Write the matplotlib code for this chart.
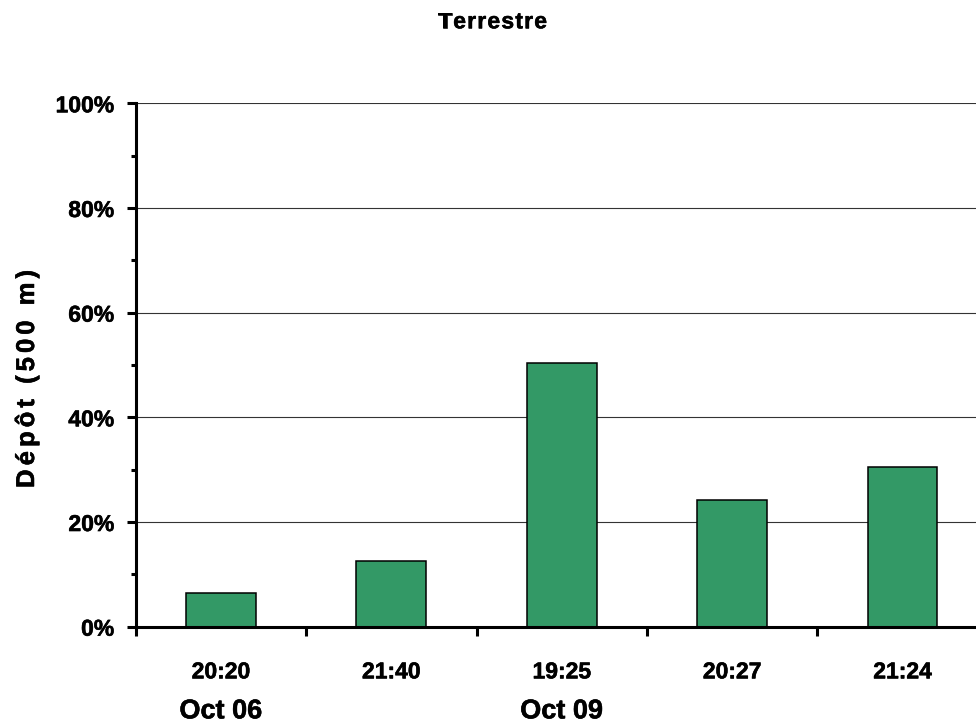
import matplotlib
matplotlib.use("Agg")
import matplotlib.pyplot as plt
import matplotlib.patheffects as pe
from matplotlib.ticker import FixedLocator, FuncFormatter, MultipleLocator
from matplotlib.font_manager import FontProperties

# ---- data ----
times = ["20:20", "21:40", "19:25", "20:27", "21:24"]
values = [6.5, 12.5, 50.3, 24.2, 30.5]
date_labels = ["Oct 06", "Oct 09"]
date_positions = [0, 2]
title = "Terrestre"
ylabel = "Dépôt (500 m)"

FAM = ["Liberation Sans", "DejaVu Sans"]
plt.rcParams["font.family"] = FAM
plt.rcParams["font.weight"] = "bold"
HEAVY = [pe.withStroke(linewidth=0.4, foreground="black")]

W, H = 976, 725
fig = plt.figure(figsize=(W / 100, H / 100), dpi=100)
ax = fig.add_axes([135.7 / W, 1 - 626.7 / H, (987.7 - 135.7) / W, (626.7 - 103.3) / H])

x = list(range(len(times)))
ax.bar(x, values, width=0.41, color="#339966", edgecolor="black", linewidth=1.1, zorder=3)

ax.set_xlim(-0.5, len(times) - 0.5)
ax.set_ylim(0, 100)

ax.yaxis.set_major_locator(MultipleLocator(20))
ax.yaxis.set_minor_locator(MultipleLocator(10))
ax.yaxis.set_major_formatter(FuncFormatter(lambda v, p: f"{int(round(v))}%"))
ax.grid(axis="y", which="major", color="#333333", linewidth=0.8, zorder=0)
ax.set_axisbelow(True)

for s in ["top", "right"]:
    ax.spines[s].set_visible(False)
for s in ["left", "bottom"]:
    ax.spines[s].set_linewidth(2.2)
    ax.spines[s].set_zorder(4)

ax.tick_params(axis="y", which="major", length=6.5, width=2.2, pad=9, labelsize=16.5)
ax.tick_params(axis="y", which="minor", length=3.6, width=2.2)
for lbl in ax.get_yticklabels():
    lbl.set_fontweight("bold")
    lbl.set_path_effects(HEAVY)

ax.xaxis.set_minor_locator(FixedLocator([i - 0.5 for i in range(len(times) + 1)]))
ax.set_xticks(x)
ax.set_xticklabels([])
ax.tick_params(axis="x", which="major", length=0)
ax.tick_params(axis="x", which="minor", length=6.5, width=2.2)

for xi, t in zip(x, times):
    ax.annotate(t, xy=(xi, 0), xycoords=("data", "axes fraction"),
                xytext=(0, -37.2), textcoords="offset points",
                ha="center", va="baseline", fontsize=16.5, fontweight="bold",
                annotation_clip=False, path_effects=HEAVY)
for xp, d in zip(date_positions, date_labels):
    ax.annotate(d, xy=(xp, 0), xycoords=("data", "axes fraction"),
                xytext=(0, -66.0), textcoords="offset points",
                ha="center", va="baseline", fontsize=19.5, fontweight="bold",
                annotation_clip=False, path_effects=HEAVY)

# letter-spaced text helper (positions in pixels from top-left)
renderer = fig.canvas.get_renderer()

def text_w(s, fp):
    t = fig.text(0, 0, s, fontproperties=fp)
    w = t.get_window_extent(renderer=renderer).width
    t.remove()
    return w

def char_w(ch, fp):
    return text_w("l" + ch + "l", fp) - text_w("ll", fp)

def spaced_text(s, size, start, end, base, vertical=False):
    fp = FontProperties(family=FAM, weight="bold", size=size)
    widths = [char_w(c, fp) for c in s]
    total = abs(end - start)
    gap = (total - sum(widths)) / (len(s) - 1)
    pos = 0.0
    for c, w in zip(s, widths):
        if c != " ":
            if vertical:
                fig.text(base / W, 1 - (start - pos) / H, c, rotation=90,
                         rotation_mode="anchor", ha="left", va="baseline",
                         fontproperties=fp, path_effects=HEAVY)
            else:
                fig.text((start + pos) / W, 1 - base / H, c, ha="left",
                         va="baseline", fontproperties=fp, path_effects=HEAVY)
        pos += w + gap

spaced_text(title, 16.5, 438, 547, 28.3)
spaced_text(ylabel, 18.5, 488, 270, 34.0, vertical=True)

fig.savefig("out.png", dpi=100)
